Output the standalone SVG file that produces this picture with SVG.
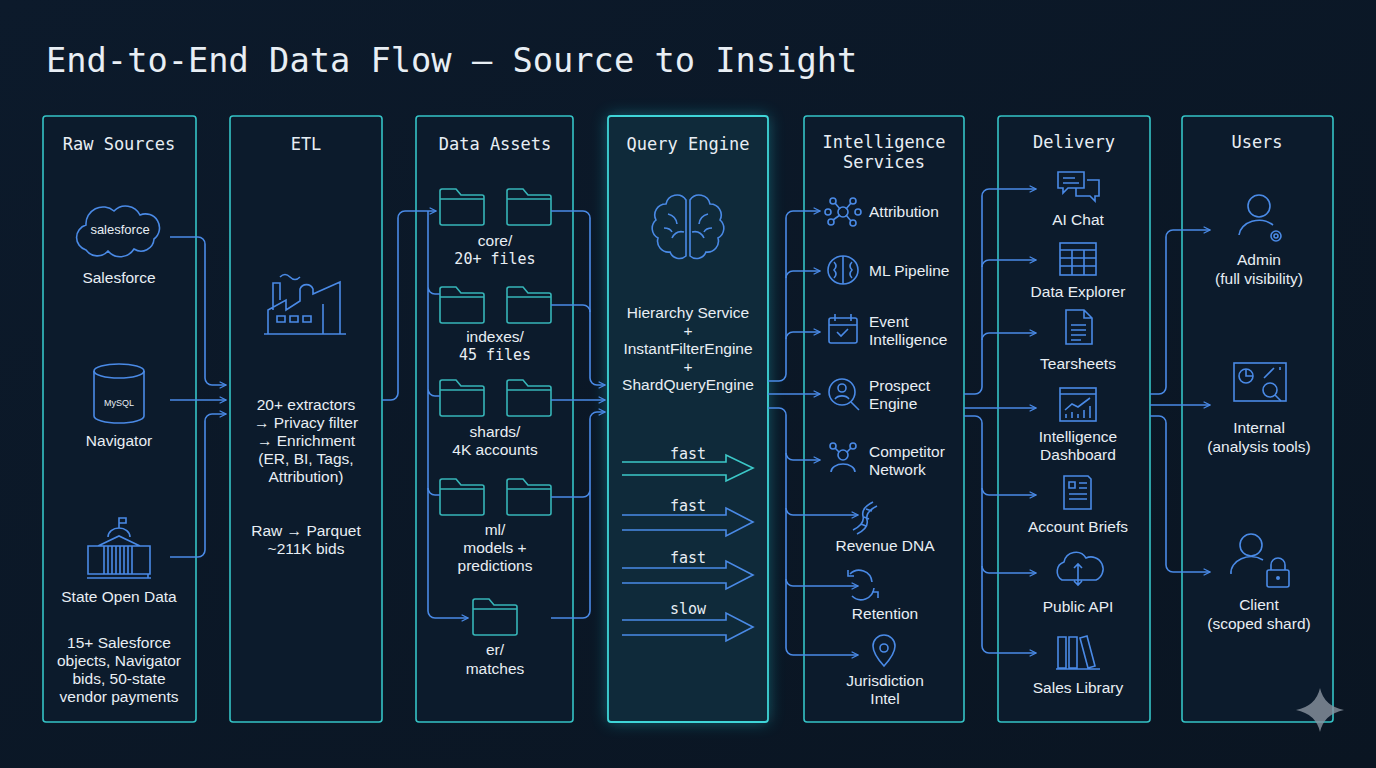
<svg xmlns="http://www.w3.org/2000/svg" width="1376" height="768" viewBox="0 0 1376 768">
<defs>
<linearGradient id="bg" x1="0" y1="0" x2="1" y2="1"><stop offset="0" stop-color="#0c1a2b"/><stop offset="1" stop-color="#0a1522"/></linearGradient>
<filter id="glow" x="-30%" y="-10%" width="160%" height="120%"><feGaussianBlur stdDeviation="8"/></filter>
<marker id="ah" viewBox="0 0 10 10" refX="9" refY="5" markerWidth="8" markerHeight="8" markerUnits="userSpaceOnUse" orient="auto"><path d="M1,1 L9,5 L1,9" fill="none" stroke="#4a8ae6" stroke-width="1.6"/></marker>
<g id="folder"><path d="M2,0 h14 l5,6 h21 a2,2 0 0 1 2,2 v26 a2,2 0 0 1 -2,2 h-40 a2,2 0 0 1 -2,-2 v-32 a2,2 0 0 1 2,-2 z M0,10 h44" fill="none" stroke="#36b5b8" stroke-width="1.6"/></g>
</defs>
<style>
.col{fill:#0c1b2c;stroke:#35c3c6;stroke-width:1.6}
.hd{font-family:"DejaVu Sans Mono",monospace;font-size:17px;fill:#e8eef4;text-anchor:middle}
.t{font-family:"Liberation Sans",Arial,sans-serif;font-size:15.5px;fill:#e8eef4;text-anchor:middle}
.tl{font-family:"Liberation Sans",Arial,sans-serif;font-size:15.5px;fill:#e8eef4}
.m{font-family:"DejaVu Sans Mono",monospace;font-size:15px;fill:#e8eef4;text-anchor:middle}
.ic{fill:none;stroke:#4a8ae6;stroke-width:1.6}
.c{fill:none;stroke:#4a8ae6;stroke-width:1.6;marker-end:url(#ah)}
.cn{fill:none;stroke:#4a8ae6;stroke-width:1.6}
.fa{fill:none;stroke-width:1.6}
</style>
<rect width="1376" height="768" fill="url(#bg)"/>
<text x="46" y="72" font-family="DejaVu Sans Mono,monospace" font-size="33.7" fill="#e8eef4">End-to-End Data Flow — Source to Insight</text>

<g id="raw-sources">
<rect class="col" x="43" y="116" width="153" height="606" rx="3"/>
<text class="hd" x="119" y="150">Raw Sources</text>
<path class="ic" d="M86,250 a13,13 0 0 1 0,-25 a17,17 0 0 1 28,-14 a16,16 0 0 1 26,4 a14,14 0 0 1 14,24 a13,13 0 0 1 -20,10 a16,16 0 0 1 -26,2 a14,14 0 0 1 -22,-1 z"/>
<text x="120" y="234" font-family="Liberation Sans,sans-serif" font-size="13" fill="#e8eef4" text-anchor="middle">salesforce</text>
<text class="t" x="119" y="283">Salesforce</text>
<ellipse class="ic" cx="119" cy="371" rx="25" ry="7"/>
<path class="ic" d="M94,371 v45 a25,7 0 0 0 50,0 v-45"/>
<text x="119" y="406" font-family="Liberation Sans,sans-serif" font-size="9" fill="#e8eef4" text-anchor="middle">MySQL</text>
<text class="t" x="119" y="446">Navigator</text>
<path class="ic" d="M87,578 h64 M90,574 h58 v4 M88,546 h62 v28 h-62 z M104,546 v28 M108,546 v28 M112,546 v28 M116,546 v28 M120,546 v28 M124,546 v28 M128,546 v28 M132,546 v28 M98,546 l21,-10 l21,10 M108,537 a11,9 0 0 1 22,0 M119,528 v-10 h7 v5 h-7"/>
<text class="t" x="119" y="602">State Open Data</text>
<text class="t" x="119" y="648">15+ Salesforce</text>
<text class="t" x="119" y="666">objects, Navigator</text>
<text class="t" x="119" y="684">bids, 50-state</text>
<text class="t" x="119" y="702">vendor payments</text>
</g>

<g id="etl">
<rect class="col" x="230" y="116" width="152" height="606" rx="3"/>
<text class="hd" x="306" y="150">ETL</text>
<path class="ic" d="M264,334 h82 M268,334 v-24 l18,-10 v10 l14,-9 v-12 a7,7 0 0 1 13,0 v5 l27,-12 v52 M273,310 v-27 h7 v17 M277,322 h8 v-6 h-8 z M290,322 h8 v-6 h-8 z M303,322 h8 v-6 h-8 z M323,334 v-30 M280,277 q5,-5 10,0 q5,5 10,0"/>
<text class="t" x="306" y="410">20+ extractors</text>
<text class="t" x="306" y="428">→ Privacy filter</text>
<text class="t" x="306" y="446">→ Enrichment</text>
<text class="t" x="306" y="464">(ER, BI, Tags,</text>
<text class="t" x="306" y="482">Attribution)</text>
<text class="t" x="306" y="536">Raw → Parquet</text>
<text class="t" x="306" y="554">~211K bids</text>
</g>

<g id="data-assets">
<rect class="col" x="416" y="116" width="157" height="606" rx="3"/>
<text class="hd" x="495" y="150">Data Assets</text>
<use href="#folder" x="440" y="189"/><use href="#folder" x="507" y="189"/>
<text class="t" x="495" y="246">core/</text><text class="m" x="495" y="264">20+ files</text>
<use href="#folder" x="440" y="287"/><use href="#folder" x="507" y="287"/>
<text class="t" x="495" y="342">indexes/</text><text class="m" x="495" y="360">45 files</text>
<use href="#folder" x="440" y="380"/><use href="#folder" x="507" y="380"/>
<text class="t" x="495" y="437">shards/</text><text class="t" x="495" y="455">4K accounts</text>
<use href="#folder" x="440" y="479"/><use href="#folder" x="507" y="479"/>
<text class="t" x="495" y="535">ml/</text><text class="t" x="495" y="553">models +</text><text class="t" x="495" y="571">predictions</text>
<use href="#folder" x="473" y="599"/>
<text class="t" x="495" y="655">er/</text><text class="t" x="495" y="674">matches</text>
</g>

<g id="query-engine">
<rect x="608" y="116" width="160" height="606" rx="3" fill="#1fa9b8" opacity="0.5" filter="url(#glow)"/>
<rect x="608" y="116" width="160" height="606" rx="3" fill="#0f2a3a" stroke="#3fd5d8" stroke-width="1.8"/>
<text class="hd" x="688" y="150">Query Engine</text>
<path class="ic" d="M686,200 a11,11 0 0 0 -20,4 a11,11 0 0 0 -10,16 a11,11 0 0 0 2,18 a11,11 0 0 0 12,14 a10,10 0 0 0 16,4 z M690,200 a11,11 0 0 1 20,4 a11,11 0 0 1 10,16 a11,11 0 0 1 -2,18 a11,11 0 0 1 -12,14 a10,10 0 0 1 -16,4 z M668,214 q8,2 9,10 M672,238 q4,-8 12,-6 M708,214 q-8,2 -9,10 M704,238 q-4,-8 -12,-6 M664,228 q6,0 8,4 M712,228 q-6,0 -8,4"/>
<text class="t" x="688" y="318">Hierarchy Service</text>
<text class="t" x="688" y="336">+</text>
<text class="t" x="688" y="354">InstantFilterEngine</text>
<text class="t" x="688" y="372">+</text>
<text class="t" x="688" y="390">ShardQueryEngine</text>
<g font-family="DejaVu Sans Mono,monospace" font-size="15" fill="#e8eef4" text-anchor="middle">
<text x="688" y="459">fast</text><text x="688" y="511">fast</text><text x="688" y="563">fast</text><text x="688" y="614">slow</text>
</g>
<path class="fa" stroke="#3cc8c8" d="M622,462 h104 v-7 l27,13 l-27,13 v-6 h-104"/>
<path class="fa" stroke="#4a8ae6" d="M622,515 h104 v-7 l27,14 l-27,14 v-6 h-104"/>
<path class="fa" stroke="#4a8ae6" d="M622,568 h104 v-7 l27,14 l-27,14 v-6 h-104"/>
<path class="fa" stroke="#4a8ae6" d="M622,620 h104 v-7 l27,14 l-27,14 v-6 h-104"/>
</g>

<g id="intelligence-services">
<rect class="col" x="804" y="116" width="160" height="606" rx="3"/>
<text class="hd" x="884" y="148">Intelligence</text>
<text class="hd" x="884" y="168">Services</text>
<g class="ic"><circle cx="843" cy="212" r="5"/><circle cx="833" cy="201" r="3"/><circle cx="853" cy="201" r="3"/><circle cx="831" cy="222" r="3"/><circle cx="853" cy="223" r="3"/><circle cx="858" cy="212" r="3"/><circle cx="828" cy="212" r="3"/><path d="M840,209 l-5,-6 M846,209 l5,-6 M840,215 l-7,5 M846,215 l5,6"/></g>
<text class="tl" x="869" y="217">Attribution</text>
<g class="ic"><ellipse cx="843" cy="270" rx="15" ry="14"/><path d="M843,256 v28 M834,262 q4,4 0,8 q4,4 0,8 M852,262 q-4,4 0,8 q-4,4 0,8"/></g>
<text class="tl" x="869" y="276">ML Pipeline</text>
<g class="ic"><rect x="829" y="318" width="28" height="25" rx="2"/><path d="M829,325 h28 M835,314 v7 M851,314 v7 M837,332 l4,4 l7,-7"/></g>
<text class="tl" x="869" y="327">Event</text><text class="tl" x="869" y="345">Intelligence</text>
<g class="ic"><circle cx="842" cy="392" r="13"/><circle cx="842" cy="388" r="4"/><path d="M835,399 a8,6 0 0 1 14,0 M851,402 l8,8"/></g>
<text class="tl" x="869" y="391">Prospect</text><text class="tl" x="869" y="409">Engine</text>
<g class="ic"><circle cx="843" cy="455" r="5"/><circle cx="833" cy="446" r="3"/><circle cx="853" cy="446" r="3"/><path d="M835,448 l4,4 M851,448 l-4,4 M831,472 a12,8 0 0 1 24,0"/></g>
<text class="tl" x="869" y="457">Competitor</text><text class="tl" x="869" y="475">Network</text>
<path class="ic" d="M873,502 q-12,6 -10,14 q2,8 -10,14 M877,506 q-12,6 -10,14 q2,8 -10,14 M866,509 l6,2 M864,517 l5,2 M861,524 l5,2"/>
<text class="t" x="885" y="551">Revenue DNA</text>
<path class="ic" d="M872,582 a13,13 0 0 0 -22,-8 M848,570 v6 h6 M874,588 a13,13 0 0 1 -22,8 M878,598 v-6 h-6"/>
<text class="t" x="885" y="619">Retention</text>
<path class="ic" d="M884,666 q-11,-12 -11,-20 a11,11 0 0 1 22,0 q0,8 -11,20 z"/><circle class="ic" cx="884" cy="648" r="4"/>
<text class="t" x="885" y="686">Jurisdiction</text><text class="t" x="885" y="704">Intel</text>
</g>

<g id="delivery">
<rect class="col" x="998" y="116" width="152" height="606" rx="3"/>
<text class="hd" x="1074" y="148">Delivery</text>
<path class="ic" d="M1058,172 h26 v16 h-16 l-5,5 v-5 h-5 z M1087,180 h12 v16 h-4 v5 l-5,-5 h-14 v-8 M1063,178 h12 M1063,183 h16"/>
<text class="t" x="1078" y="225">AI Chat</text>
<g class="ic"><rect x="1060" y="243" width="36" height="32"/><path d="M1060,250 h36 M1060,258 h36 M1060,266 h36 M1072,250 v25 M1084,250 v25"/></g>
<text class="t" x="1078" y="297">Data Explorer</text>
<path class="ic" d="M1066,310 h18 l8,8 v26 h-26 z M1084,310 v8 h8 M1071,325 h15 M1071,330 h15 M1071,335 h15 M1071,340 h10"/>
<text class="t" x="1078" y="369">Tearsheets</text>
<g class="ic"><rect x="1060" y="388" width="36" height="33"/><path d="M1060,394 h36 M1065,410 l7,-6 l6,3 l12,-9 M1066,418 v-4 M1072,418 v-6 M1078,418 v-4 M1084,418 v-8 M1090,418 v-12"/></g>
<text class="t" x="1078" y="442">Intelligence</text><text class="t" x="1078" y="460">Dashboard</text>
<path class="ic" d="M1064,476 h24 l3,3 v30 h-27 z M1069,482 h6 v6 h-6 z M1079,483 h8 M1079,488 h8 M1069,494 h18 M1069,499 h18"/>
<text class="t" x="1078" y="532">Account Briefs</text>
<path class="ic" d="M1062,580 a10,10 0 0 1 2,-18 a12,12 0 0 1 22,-4 a10,10 0 0 1 10,22 z M1078,564 v21 M1074,568 l4,-4 l4,4 M1074,581 l4,4 l4,-4"/>
<text class="t" x="1078" y="612">Public API</text>
<path class="ic" d="M1056,669 h44 M1058,637 h8 v31 h-8 z M1069,637 h8 v31 h-8 z M1080,638 l7,-2 l8,30 l-7,2 z"/>
<text class="t" x="1078" y="693">Sales Library</text>
</g>

<g id="users">
<rect class="col" x="1182" y="116" width="151" height="606" rx="3"/>
<text class="hd" x="1257" y="148">Users</text>
<circle class="ic" cx="1259" cy="206" r="11"/><path class="ic" d="M1239,235 a20,16 0 0 1 34,-10"/><circle class="ic" cx="1276" cy="236" r="5"/><circle class="ic" cx="1276" cy="236" r="2"/>
<text class="t" x="1259" y="265">Admin</text><text class="t" x="1259" y="284">(full visibility)</text>
<g class="ic"><rect x="1234" y="363" width="52" height="38"/><circle cx="1246" cy="376" r="7"/><path d="M1246,369 v7 h7 M1264,378 l10,-10 M1280,370 v-3"/><circle cx="1270" cy="390" r="7"/><path d="M1275,395 l6,6"/></g>
<text class="t" x="1259" y="433">Internal</text><text class="t" x="1259" y="452">(analysis tools)</text>
<circle class="ic" cx="1251" cy="545" r="11"/><path class="ic" d="M1231,574 a20,16 0 0 1 32,-14"/><rect class="ic" x="1267" y="570" width="22" height="17" rx="2"/><path class="ic" d="M1271,570 v-5 a7,7 0 0 1 14,0 v5"/><circle cx="1278" cy="578" r="2" fill="#4a8ae6"/>
<text class="t" x="1259" y="610">Client</text><text class="t" x="1259" y="629">(scoped shard)</text>
</g>

<g id="connectors">
<path class="c" d="M170,237 h28 a7,7 0 0 1 7,7 v134 a7,7 0 0 0 7,7 h14"/>
<path class="c" d="M170,400 h56"/>
<path class="c" d="M170,557 h28 a7,7 0 0 0 7,-7 v-129 a7,7 0 0 1 7,-7 h14"/>
<path class="c" d="M382,400 h9 a7,7 0 0 0 7,-7 v-175 a7,7 0 0 1 7,-7 h31"/>
<path class="cn" d="M428,211 v76 a7,7 0 0 0 7,7 h5 M428,287 v102 a7,7 0 0 0 7,7 h5 M428,389 v99 a7,7 0 0 0 7,7 h5"/>
<path class="c" d="M428,488 v123 a7,7 0 0 0 7,7 h33"/>
<path class="cn" d="M551,211 h32 a7,7 0 0 1 7,7 v80 M551,305 h32 a7,7 0 0 1 7,7"/>
<path class="c" d="M590,298 v80 a7,7 0 0 0 7,7 h8"/>
<path class="c" d="M551,400 h54"/>
<path class="cn" d="M551,497 h32 a7,7 0 0 0 7,-7 M551,618 h32 a7,7 0 0 0 7,-7 v-192"/>
<path class="c" d="M590,419 a7,7 0 0 1 7,-7 h8"/>
<path class="c" d="M768,381 h11 a7,7 0 0 0 7,-7 v-156 a7,7 0 0 1 7,-7 h27"/>
<path class="c" d="M786,278 a7,7 0 0 1 7,-7 h27"/>
<path class="c" d="M786,339 a7,7 0 0 1 7,-7 h27"/>
<path class="c" d="M768,394 h52"/>
<path class="c" d="M768,408 h11 a7,7 0 0 1 7,7 v233 a7,7 0 0 0 7,7 h65"/>
<path class="c" d="M786,453 a7,7 0 0 0 7,7 h27"/>
<path class="c" d="M786,508 a7,7 0 0 0 7,7 h65"/>
<path class="c" d="M786,579 a7,7 0 0 0 7,7 h65"/>
<path class="c" d="M964,394 h11 a7,7 0 0 0 7,-7 v-191 a7,7 0 0 1 7,-7 h47"/>
<path class="c" d="M982,267 a7,7 0 0 1 7,-7 h47"/>
<path class="c" d="M982,340 a7,7 0 0 1 7,-7 h47"/>
<path class="c" d="M964,408 h72"/>
<path class="c" d="M964,416 h11 a7,7 0 0 1 7,7 v223 a7,7 0 0 0 7,7 h47"/>
<path class="c" d="M982,488 a7,7 0 0 0 7,7 h47"/>
<path class="c" d="M982,566 a7,7 0 0 0 7,7 h47"/>
<path class="c" d="M1150,394 h9 a7,7 0 0 0 7,-7 v-150 a7,7 0 0 1 7,-7 h37"/>
<path class="c" d="M1150,405 h60"/>
<path class="c" d="M1150,416 h9 a7,7 0 0 1 7,7 v142 a7,7 0 0 0 7,7 h37"/>
</g>
<path d="M1320,688 q4,18 24,22 q-20,4 -24,22 q-4,-18 -24,-22 q20,-4 24,-22 z" fill="#8a94a0" opacity="0.8"/>
</svg>
